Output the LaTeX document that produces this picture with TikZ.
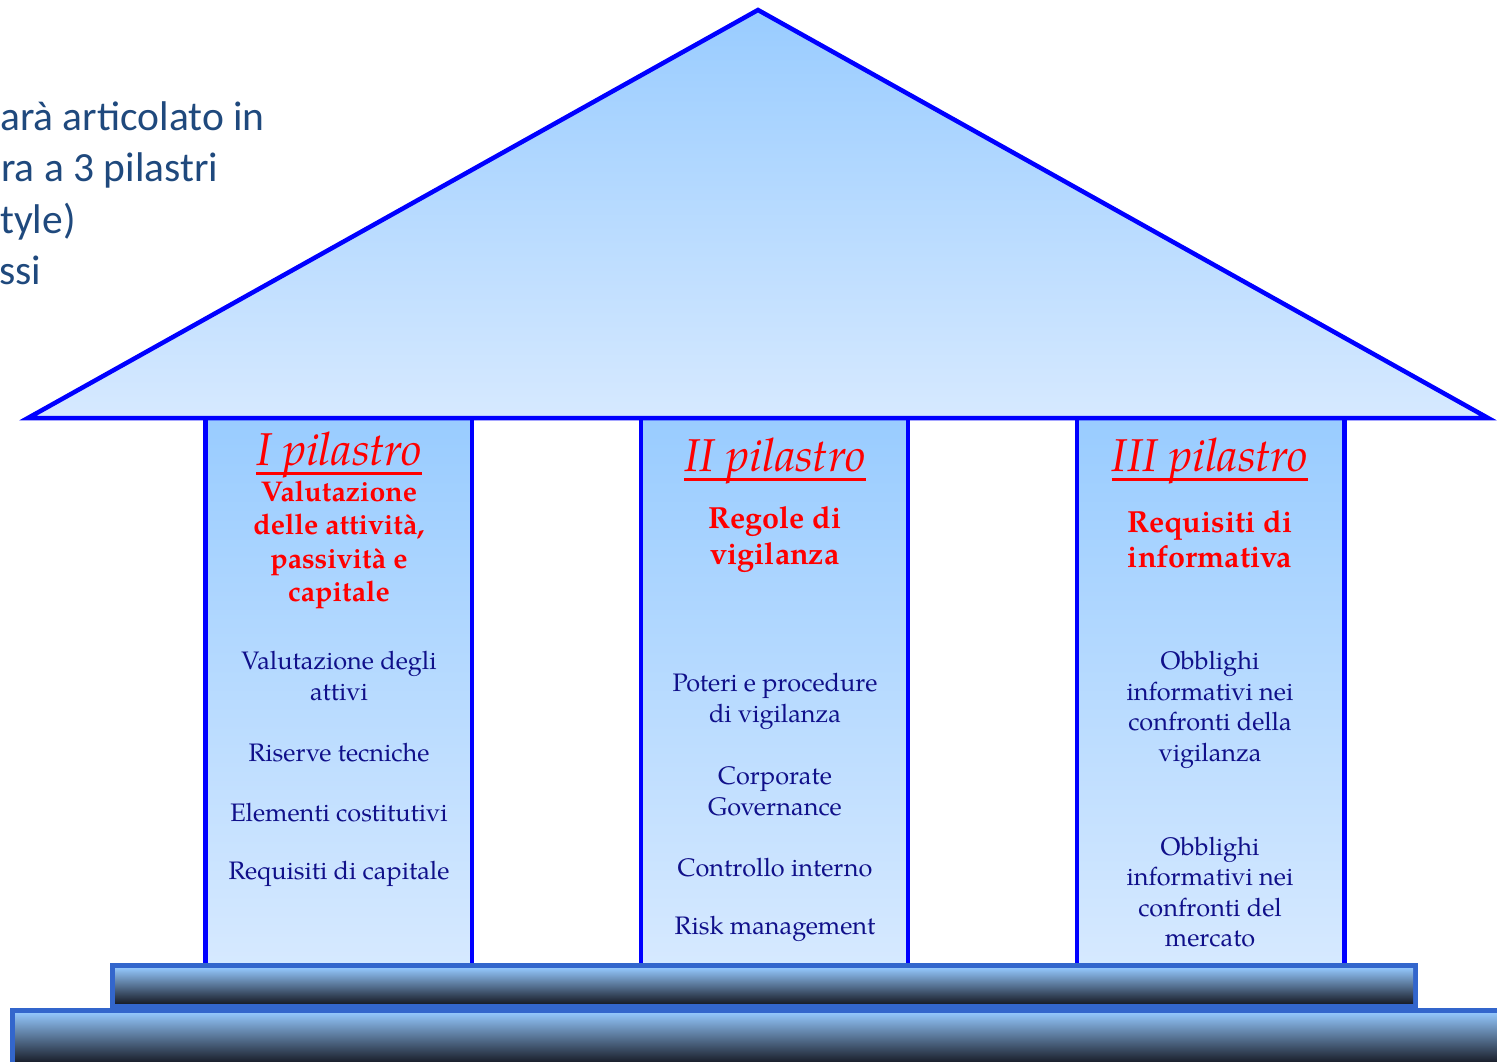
\documentclass[tikz,border=0pt]{standalone}
\usepackage{fontspec}
\setmainfont{TeX Gyre Pagella}
\newfontfamily\slidefont{Carlito}
\definecolor{edgeblue}{HTML}{0000FF}
\definecolor{skytop}{HTML}{99CCFF}
\definecolor{skybottom}{HTML}{D6E9FF}
\definecolor{stepedge}{HTML}{3366CC}
\definecolor{steptop}{HTML}{92C5FA}
\definecolor{stepbottom}{HTML}{1A1F2B}
\definecolor{navytext}{HTML}{10108A}
\definecolor{slidetext}{HTML}{1F497D}
\begin{document}
\begin{tikzpicture}[x=1pt,y=-1pt,
  column/.style={draw=edgeblue, line width=4.5, top color=skytop, bottom color=skybottom},
  roof/.style={draw=edgeblue, line width=4.5, line join=miter, top color=skytop, bottom color=skybottom},
  stepframe/.style={fill=stepedge},
  stepface/.style={top color=steptop, bottom color=stepbottom},
  heading/.style={text=red, inner sep=0, font=\fontsize{46}{50}\selectfont\itshape},
  theme/.style={text=red, inner sep=0, align=center, font=\fontsize{28.5}{33.3}\selectfont\bfseries},
  themewide/.style={text=red, inner sep=0, align=center, font=\fontsize{30.5}{35.5}\selectfont\bfseries},
  item/.style={text=navytext, inner sep=0, align=center, font=\fontsize{25.3}{30.5}\selectfont},
  slideline/.style={text=slidetext, inner sep=0, anchor=base west, font=\slidefont\fontsize{41.5}{48}\selectfont}]
\useasboundingbox (0,0) rectangle (1497,1062);
\clip (0,0) rectangle (1497,1062);

% text of the slide behind the temple
\node[slideline] (s1) at (0,131) {arà articolato in};
\node[slideline] (s2) at (1,182) {ra a 3 pilastri};
\node[slideline] (s3) at (0,233) {tyle)};
\node[slideline] (s4) at (-1,284) {ssi};

% the three columns
\path[column] (205.5,416) rectangle (472,965);
\path[column] (641,416) rectangle (908,965);
\path[column] (1077,416) rectangle (1344.5,965);

% the two steps of the base
\path[stepframe] (110,963) rectangle (1418,1008);
\path[stepface] (115,968) rectangle (1413,1003);
\path[stepframe] (10,1008) rectangle (1497,1062);
\path[stepface] (15,1013) rectangle (1497,1062);

% the roof
\path[roof] (28,418) -- (758,10) -- (1488,418) -- cycle;

% first column
\node[heading] (h1) at (339,455) {I pilastro};
\draw[red, line width=3] ([yshift=-8pt]h1.base west) -- ([yshift=-8pt]h1.base east);
\node[theme] (t1) at (339,545) {Valutazione\\delle attività,\\passività e\\capitale};
\node[item] (a1) at (339,676) {Valutazione degli\\attivi};
\node[item] (a2) at (339,753) {Riserve tecniche};
\node[item] (a3) at (339,813) {Elementi costitutivi};
\node[item] (a4) at (339,874) {Requisiti di capitale};

% second column
\node[heading] (h2) at (775,461) {II pilastro};
\draw[red, line width=3] ([yshift=-8pt]h2.base west) -- ([yshift=-8pt]h2.base east);
\node[themewide] (t2) at (775,539.5) {Regole di\\vigilanza};
\node[item] (b1) at (775,701.5) {Poteri e procedure\\di vigilanza};
\node[item] (b2) at (775,791.5) {Corporate\\Governance};
\node[item] (b3) at (775,868) {Controllo interno};
\node[item] (b4) at (775,929) {Risk management};

% third column
\node[heading] (h3) at (1210,461) {III pilastro};
\draw[red, line width=3] ([yshift=-8pt]h3.base west) -- ([yshift=-8pt]h3.base east);
\node[themewide] (t3) at (1210,539.5) {Requisiti di\\informativa};
\node[item] (c1) at (1210,710) {Obblighi\\informativi nei\\confronti della\\vigilanza};
\node[item] (c2) at (1210,892) {Obblighi\\informativi nei\\confronti del\\mercato};
\end{tikzpicture}
\end{document}
